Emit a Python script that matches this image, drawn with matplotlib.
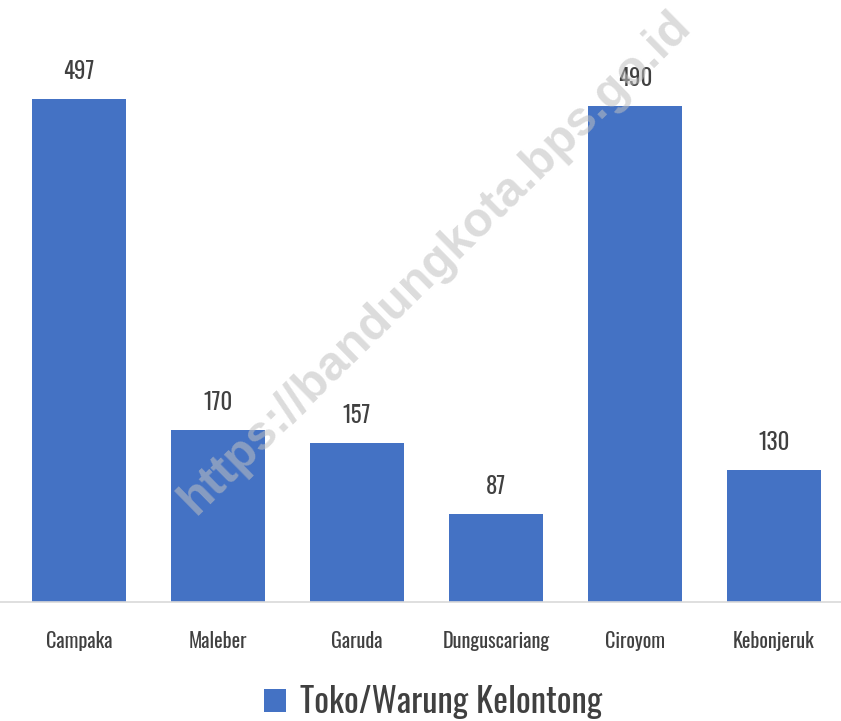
import matplotlib
matplotlib.use("Agg")
import matplotlib.pyplot as plt
from matplotlib.patches import Patch

categories = ["Campaka", "Maleber", "Garuda", "Dunguscariang", "Ciroyom", "Kebonjeruk"]
values = [497, 170, 157, 87, 490, 130]
series_name = "Toko/Warung Kelontong"
watermark = "https://bandungkota.bps.go.id"

bar_color = "#4472C4"
text_color = "#404040"
narrow = ["Oswald", "Liberation Sans Narrow", "DejaVu Sans"]

fig = plt.figure(figsize=(8.41, 7.21), dpi=100)
ax = fig.add_axes([0, 0.165, 1, 0.786])

x = list(range(len(categories)))
bars = ax.bar(x, values, width=0.67, color=bar_color, zorder=2)

for b, v in zip(bars, values):
    ax.text(b.get_x() + b.get_width() / 2, v + 16, str(v), ha="center", va="bottom",
            fontsize=16.5, color=text_color, family=narrow)

ax.set_xlim(-0.568, 5.482)
ax.set_ylim(0, 560)
ax.set_xticks(x)
ax.set_xticklabels(categories, fontsize=14.5, color=text_color, family=narrow)
ax.tick_params(axis="x", length=0, pad=21)
ax.set_yticks([])
for s in ["top", "right", "left"]:
    ax.spines[s].set_visible(False)
ax.spines["bottom"].set_color("#d9d9d9")
ax.spines["bottom"].set_linewidth(1.2)

handle = Patch(facecolor=bar_color, label=series_name)
leg = fig.legend(handles=[handle], loc="center", bbox_to_anchor=(0.515, 0.027), frameon=False,
                 prop={"family": narrow, "size": 25}, handlelength=0.65, handleheight=0.65,
                 handletextpad=0.4)
for t in leg.get_texts():
    t.set_color(text_color)

fig.text(0.517, 0.635, watermark, rotation=44.5, ha="center", va="center",
         fontsize=35, fontweight="bold", family="Liberation Sans", color="#c0c0c0", alpha=0.55,
         zorder=10)

fig.savefig("out.png", dpi=100)
